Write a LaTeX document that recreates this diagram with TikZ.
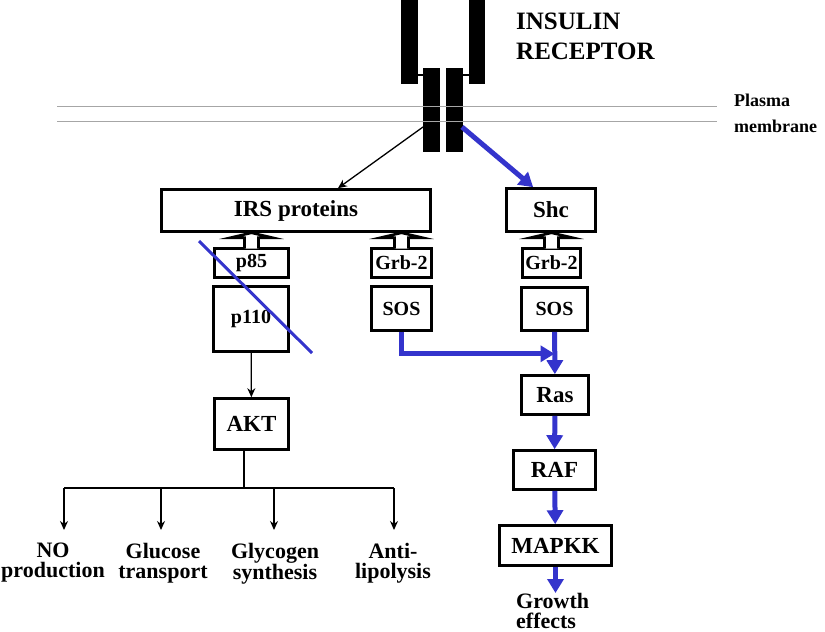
\documentclass[tikz,border=0pt]{standalone}
\usepackage{fontspec}
\setmainfont{Liberation Serif}
\usetikzlibrary{arrows.meta,calc}
\definecolor{pathblue}{RGB}{52,52,204}

\begin{document}
\begin{tikzpicture}[x=1pt,y=-1pt,
        box/.style={draw, line width=2.6pt, inner sep=0pt, font=\fontsize{23}{26}\selectfont\bfseries},
        smallbox/.style={box, font=\fontsize{20}{24}\selectfont\bfseries},
        dock/.style={fill=white, draw=black, line width=2.6pt},
        wire/.style={line width=1.3pt},
        link/.style={line width=1.3pt, -{Stealth[length=9pt,width=8pt]}},
        signal/.style={pathblue, line width=5pt, -{Triangle[length=14pt,width=16pt]}},
        membrane/.style={gray!70, line width=1pt},
        outcome/.style={inner sep=0pt, align=center, font=\fontsize{22}{20}\selectfont\bfseries}]
        \useasboundingbox (0,0) rectangle (825,632);
        % receptor and membrane
        \filldraw[black] (401,0) rectangle (417,83);
        \filldraw[black] (469,0) rectangle (484,83);
        \filldraw[black] (423,68) rectangle (439,151);
        \filldraw[black] (446,68) rectangle (462,151);
        \draw[wire] (417,75) -- (423,75);
        \draw[wire] (462,75) -- (469,75);
        \node[anchor=north west, inner sep=0pt, align=left, font=\fontsize{25}{30}\selectfont\bfseries] (receptor) at (516,13) {INSULIN\\RECEPTOR};
        \draw[membrane] (57,106) -- (717,106);
        \draw[membrane] (57,121) -- (717,121);
        \node[anchor=north west, inner sep=0pt, align=left, font=\fontsize{18}{26}\selectfont\bfseries] (plasma) at (734,94) {Plasma\\membrane};
        \coordinate (rcvL) at (423,127);
        \coordinate (rcvR) at (462,127);

        % boxes
        \node[box, minimum width=269, minimum height=42] (irs) at (296,210.5) {IRS proteins};
        \node[box, minimum width=89, minimum height=43] (shc) at (551,210) {Shc};
        \node[smallbox, minimum width=74, minimum height=29] (p85) at (251.5,263) {p85};
        \node[smallbox, minimum width=60, minimum height=29] (grbL) at (401.5,263) {Grb-2};
        \node[smallbox, minimum width=58, minimum height=29] (grbR) at (551.5,263) {Grb-2};
        \node[smallbox, minimum width=75, minimum height=65] (p110) at (251,319) {p110};
        \node[smallbox, minimum width=60, minimum height=44] (sosL) at (401.5,308.5) {SOS};
        \node[smallbox, minimum width=66, minimum height=43] (sosR) at (554.5,309) {SOS};
        \node[box, minimum width=74, minimum height=51] (akt) at (251.5,424) {AKT};
        \node[box, minimum width=67, minimum height=39] (ras) at (555,395) {Ras};
        \node[box, minimum width=82, minimum height=39] (raf) at (554.5,470) {RAF};
        \node[box, minimum width=112, minimum height=40] (mapkk) at (555.5,545.5) {MAPKK};

        % docking arrows
        \filldraw[dock] ($(p85.north)+(-7,1.5)$) -- ++(0,-11) -- ++(-14,0) -- (p85.north |- irs.south) -- ($(p85.north)+(21,-9.5)$) -- ++(-14,0) -- ++(0,11);
        \filldraw[dock] ($(grbL.north)+(-7,1.5)$) -- ++(0,-11) -- ++(-14,0) -- (grbL.north |- irs.south) -- ($(grbL.north)+(21,-9.5)$) -- ++(-14,0) -- ++(0,11);
        \filldraw[dock] ($(grbR.north)+(-7,1.5)$) -- ++(0,-11) -- ++(-14,0) -- (grbR.north |- shc.south) -- ($(grbR.north)+(21,-9.5)$) -- ++(-14,0) -- ++(0,11);

        % signalling
        \draw[link] (rcvL) -- (irs.28);
        \draw[signal] (rcvR) -- (shc.128);
        \draw[pathblue, line width=3pt] (199,241) -- (312,353);
        \draw[link] (p110) -- (akt);
        \path (sosR.south) ++(0,22) coordinate (merge);
        \draw[signal] (sosL.south) |- (merge);
        \draw[signal] (sosR) -- (ras);
        \draw[signal] (ras) -- (raf);
        \draw[signal] (raf) -- (mapkk);
        \node[outcome, anchor=north west, align=left] (growth) at (516,593) {Growth\\effects};
        \draw[signal] (mapkk) -- (mapkk.south |- growth.north);

        % AKT outputs
        \coordinate (bus) at (244,488);
        \coordinate (t1) at (64,530);
        \coordinate (t2) at (161,530);
        \coordinate (t3) at (274,530);
        \coordinate (t4) at (394,530);
        \draw[wire] (akt.south -| bus) -- (bus);
        \draw[wire] (t1 |- bus) -- (t4 |- bus);
        \draw[link] (t1 |- bus) -- (t1);
        \draw[link] (t2 |- bus) -- (t2);
        \draw[link] (t3 |- bus) -- (t3);
        \draw[link] (t4 |- bus) -- (t4);
        \node[outcome, anchor=north] (noprod) at (53,543) {NO\\production};
        \node[outcome, anchor=north] (glucose) at (163,543) {Glucose\\transport};
        \node[outcome, anchor=north] (glycogen) at (275,543) {Glycogen\\synthesis};
        \node[outcome, anchor=north] (lipolysis) at (393,543) {Anti-\\lipolysis};
\end{tikzpicture}
\end{document}
